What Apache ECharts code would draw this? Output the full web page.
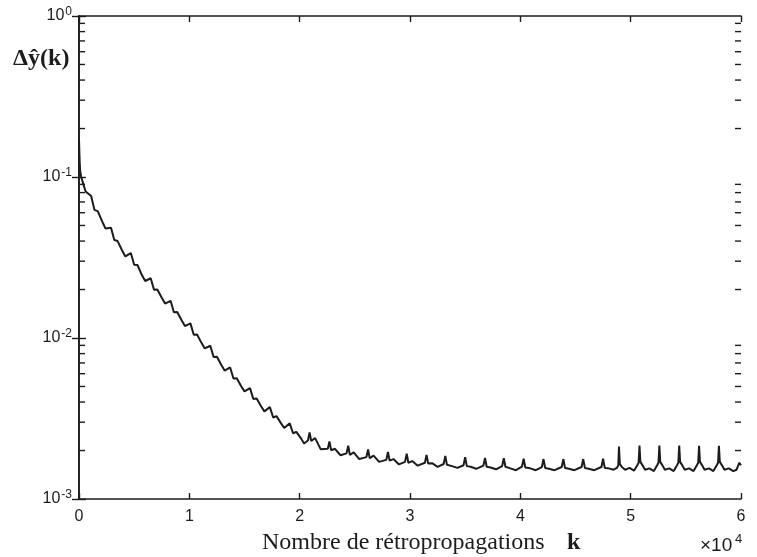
<!DOCTYPE html>
<html>
<head>
<meta charset="utf-8">
<script src="https://cdn.jsdelivr.net/npm/echarts@6/dist/echarts.min.js"></script>
<style>html,body{margin:0;padding:0;background:#fff;}#c{width:757px;height:557px;}</style>
</head>
<body>
<div id="c"></div>
<script>
// x tick labels (units of 10^4 back-propagations)
const kTicks = [0, 1, 2, 3, 4, 5, 6];
// y decades (log axis)
const yDecades = [0.001, 0.01, 0.1, 1];
// minor tick values on the log axis
const minorTicks = [0.002,0.003,0.004,0.005,0.006,0.007,0.008,0.009,
                    0.02,0.03,0.04,0.05,0.06,0.07,0.08,0.09,
                    0.2,0.3,0.4,0.5,0.6,0.7,0.8,0.9];

// [k (x10^4), delta y_hat(k)] — descent phase
const descentData = [
 [0,0.17],[0.005,0.13],[0.01,0.11],[0.02,0.10],[0.04,0.09],
 [0.06,0.0813],[0.11,0.0762],[0.14,0.0625],[0.17,0.0614],[0.21,0.0530],
 [0.24,0.0479],[0.29,0.0484],[0.32,0.0406],[0.35,0.0400],[0.39,0.0351],
 [0.42,0.0321],[0.47,0.0337],[0.50,0.0285],[0.53,0.0284],[0.57,0.0246],
 [0.60,0.0226],[0.65,0.0235],[0.68,0.01995],[0.71,0.0200],[0.75,0.0178],
 [0.78,0.01637],[0.83,0.01702],[0.86,0.01445],[0.89,0.01449],[0.93,0.01288],
 [0.96,0.01186],[1.01,0.01233],[1.04,0.01047],[1.07,0.01050],[1.11,0.00933],
 [1.14,0.00861],[1.19,0.00895],[1.22,0.00762],[1.25,0.00764],[1.29,0.00679],
 [1.32,0.00628],[1.37,0.00656],[1.40,0.00560],[1.43,0.00562],[1.47,0.00502],
 [1.50,0.00466],[1.55,0.00488],[1.58,0.00418],[1.61,0.00421],[1.65,0.00377],
 [1.68,0.00350],[1.73,0.00372],[1.76,0.00321],[1.79,0.00327],[1.83,0.00296],
 [1.86,0.00276],[1.91,0.00295],[1.94,0.00256],[1.97,0.00261],[2.01,0.00239]
];
// plateau with small periodic spikes
const plateauData = [
 [2.04,0.00221],[2.075,0.00231],[2.09,0.00259],[2.105,0.00229],[2.14,0.00239],[2.19,0.00204],
 [2.255,0.00205],[2.27,0.00228],[2.285,0.00201],[2.32,0.00205],[2.37,0.00187],
 [2.425,0.00192],[2.44,0.00214],[2.455,0.00188],[2.49,0.00195],[2.54,0.00177],
 [2.605,0.00182],[2.62,0.00203],[2.635,0.00179],[2.67,0.00186],[2.72,0.00170],
 [2.785,0.00175],[2.80,0.00196],[2.815,0.00173],[2.85,0.00177],[2.90,0.00164],
 [2.955,0.00170],[2.97,0.00191],[2.985,0.00168],[3.02,0.00172],[3.07,0.00161],
 [3.135,0.00168],[3.15,0.00188],[3.165,0.00166],[3.20,0.00167],[3.25,0.001585],
 [3.305,0.00165],[3.32,0.00185],[3.335,0.00163],[3.38,0.00160],[3.43,0.00156],
 [3.485,0.00162],[3.50,0.00182],[3.515,0.00160],[3.55,0.001585],[3.60,0.00154],
 [3.665,0.00161],[3.68,0.00180],[3.695,0.001585],[3.73,0.00157],[3.78,0.00153],
 [3.835,0.00160],[3.85,0.00179],[3.865,0.001585],[3.91,0.00155],[3.96,0.00151],
 [4.015,0.00159],[4.03,0.00178],[4.045,0.00157],[4.09,0.00155],[4.14,0.00151],
 [4.195,0.00158],[4.21,0.00177],[4.225,0.00156],[4.26,0.00154],[4.31,0.00151],
 [4.375,0.00158],[4.39,0.00177],[4.405,0.00156],[4.44,0.00154],[4.49,0.00151],
 [4.555,0.00158],[4.57,0.00177],[4.585,0.00156],[4.62,0.00154],[4.67,0.00151],
 [4.735,0.00158],[4.75,0.00178],[4.765,0.00156],[4.80,0.00155],[4.845,0.00152]
];
// late phase with larger spikes
const lateData = [
 [4.875,0.00156],[4.888,0.00162],[4.894,0.00212],[4.902,0.00165],[4.92,0.00158],[4.95,0.00152],[4.99,0.00156],[5.03,0.00150],
 [5.06,0.00162],[5.072,0.00168],[5.08,0.00215],[5.088,0.00170],[5.105,0.00163],[5.13,0.00152],[5.17,0.00155],[5.21,0.00149],
 [5.24,0.00162],[5.252,0.00168],[5.26,0.00215],[5.268,0.00170],[5.285,0.00163],[5.31,0.00152],[5.35,0.00155],[5.39,0.00149],
 [5.42,0.00162],[5.432,0.00168],[5.44,0.00215],[5.448,0.00170],[5.465,0.00163],[5.49,0.00152],[5.53,0.00155],[5.57,0.00149],
 [5.60,0.00162],[5.612,0.00168],[5.62,0.00214],[5.628,0.00170],[5.645,0.00163],[5.67,0.00152],[5.71,0.00155],[5.75,0.00149],
 [5.78,0.00162],[5.792,0.00168],[5.80,0.00214],[5.808,0.00170],[5.825,0.00163],[5.85,0.00152],[5.89,0.00155],[5.93,0.00149],
 [5.96,0.00152],[5.985,0.00168],[6.0,0.00162]
];

const curve = descentData.concat(plateauData, lateData);
const xMin = kTicks[0], xMax = kTicks[kTicks.length - 1];
const yMin = yDecades[0], yMax = yDecades[yDecades.length - 1];
const ink = '#1c1c1c';

const chart = echarts.init(document.getElementById('c'), null, {renderer: 'canvas'});

const axisLineStyle = {show: true, lineStyle: {color: ink, width: 1.6}};
const tickStyle = {show: true, inside: true, length: 6, lineStyle: {color: ink, width: 1.4}};

chart.setOption({
  animation: false,
  backgroundColor: '#fff',
  grid: {left: 79, right: 16, top: 16, bottom: 58, containLabel: false},
  xAxis: [
    {type: 'value', min: xMin, max: xMax, interval: 1, position: 'bottom',
     axisLine: axisLineStyle, axisTick: tickStyle, splitLine: {show: false},
     axisLabel: {color: ink, fontSize: 16, fontFamily: 'Liberation Sans', margin: 10}},
    {type: 'value', min: xMin, max: xMax, interval: 1, position: 'top',
     axisLine: axisLineStyle, axisTick: tickStyle, splitLine: {show: false},
     axisLabel: {show: false}}
  ],
  yAxis: [
    {type: 'log', logBase: 10, min: yMin, max: yMax, position: 'left',
     axisLine: axisLineStyle, axisTick: Object.assign({}, tickStyle, {length: 7}), splitLine: {show: false},
     axisLabel: {
       margin: 7,
       formatter: function (v) {
         const e = Math.round(Math.log10(v));
         return '{b|10}{e|' + e + '}';
       },
       rich: {
         b: {fontSize: 16, fontFamily: 'Liberation Sans', color: ink, lineHeight: 20},
         e: {fontSize: 12, fontFamily: 'Liberation Sans', color: ink, verticalAlign: 'top', lineHeight: 20, padding: [0, 0, 7, 1]}
       }
     }},
    {type: 'log', logBase: 10, min: yMin, max: yMax, position: 'right',
     axisLine: axisLineStyle, axisTick: Object.assign({}, tickStyle, {length: 7}), splitLine: {show: false},
     axisLabel: {show: false}}
  ],
  series: [
    {
      type: 'line',
      data: curve,
      xAxisIndex: 0, yAxisIndex: 0,
      showSymbol: false,
      lineStyle: {color: ink, width: 2},
      z: 3
    },
    {
      type: 'custom',
      xAxisIndex: 0, yAxisIndex: 0,
      clip: false,
      silent: true,
      data: minorTicks.map(function (v) { return [xMin, v]; }),
      renderItem: function (params, api) {
        const v = api.value(1);
        const l = api.coord([xMin, v]);
        const r = api.coord([xMax, v]);
        const st = {stroke: ink, lineWidth: 1.4};
        return {type: 'group', children: [
          {type: 'line', shape: {x1: l[0], y1: l[1], x2: l[0] + 6, y2: l[1]}, style: st},
          {type: 'line', shape: {x1: r[0] - 6, y1: r[1], x2: r[0], y2: r[1]}, style: st}
        ]};
      },
      z: 4
    }
  ],
  graphic: [
    {type: 'text', x: 262, y: 543, style: {text: 'Nombre de rétropropagations', fill: ink,
      font: '24px "Liberation Serif"', verticalAlign: 'middle', align: 'left'}},
    {type: 'text', x: 567, y: 543, style: {text: 'k', fill: ink,
      font: 'bold 24px "Liberation Serif"', verticalAlign: 'middle', align: 'left'}},
    {type: 'text', x: 700, y: 546, style: {text: '×10', fill: ink,
      font: '19px "Liberation Sans"', verticalAlign: 'middle', align: 'left'}},
    {type: 'text', x: 735, y: 539, style: {text: '4', fill: ink,
      font: '13px "Liberation Sans"', verticalAlign: 'middle', align: 'left'}},
    {type: 'text', x: 13, y: 59, style: {text: 'Δŷ(k)', fill: ink,
      font: 'bold 24px "Liberation Serif"', verticalAlign: 'middle', align: 'left'}}
  ]
});
</script>
</body>
</html>
